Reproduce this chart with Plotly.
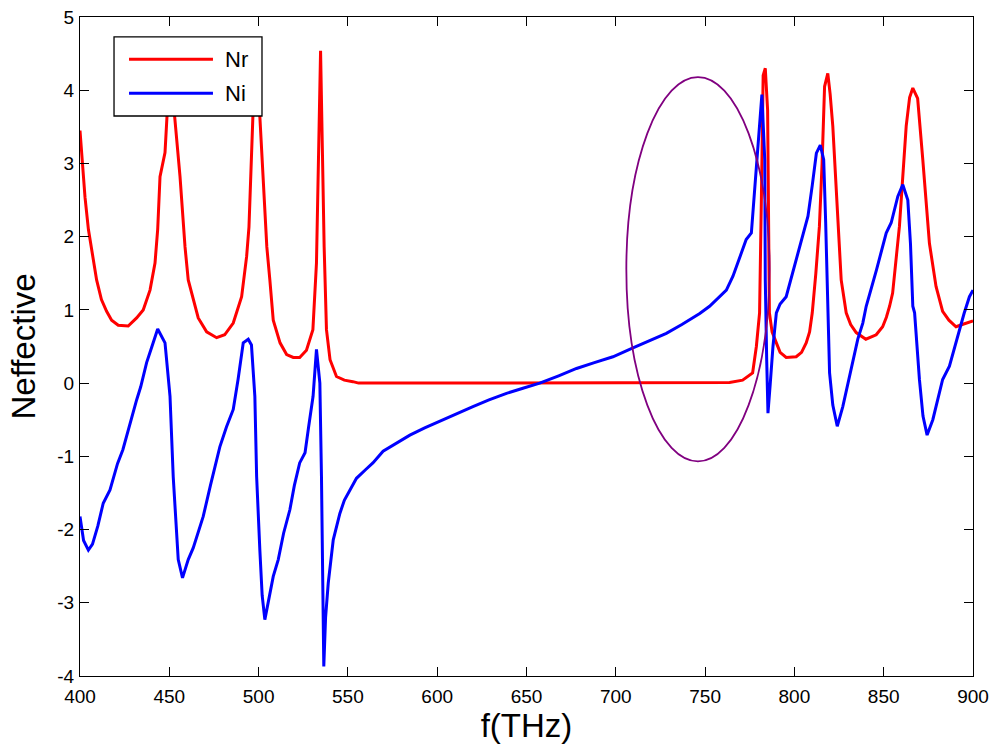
import plotly.graph_objects as go

# ---- data ----
nr_f = [400, 402.8, 404.7, 407.5, 409.3, 412, 414.9, 417.7, 421.4, 427, 431.7, 435.4, 439.2, 442, 443.5,
        444.8, 447.6, 448.7, 450.2, 451.5, 453, 456, 458.8, 460.6, 462.5, 466.2, 470.9, 476.5, 481, 485.8,
        490.5, 493.3, 494.6, 496.8, 498.3, 499.2, 500.7, 504.6, 506.3, 508.2, 512, 515.7, 519.4, 523,
        526.8, 528.7, 530.4, 532.4, 533.5, 534.7, 535.7, 536.7, 538, 540, 543.6, 548, 552.8, 556,
        600, 650, 700, 750, 763.7, 771, 776.6, 778.7, 780.5, 781.5, 782.5, 783.7, 785, 786, 787.5,
        789.9, 792, 795.4, 801, 804, 806.6, 808.5, 810, 812, 814, 815.5, 816.9, 818.7, 820, 821.5,
        823.4, 826.2, 829, 831.5, 834.6, 840, 845.8, 849.4, 851.5, 853.3, 855, 858.8, 862.6, 864.5,
        866.3, 869, 871.9, 875.6, 879.3, 883, 886.5, 890.5, 894, 900]
nr_v = [3.45, 2.54, 2.1, 1.64, 1.41, 1.14, 0.98, 0.86, 0.79, 0.78, 0.89, 1.0, 1.27, 1.64, 2.1,
        2.82, 3.15, 3.64, 3.85, 3.9, 3.64, 2.82, 1.86, 1.41, 1.23, 0.89, 0.70, 0.62, 0.66, 0.82,
        1.18, 1.73, 2.13, 3.64, 4.0, 3.95, 3.64, 1.86, 1.41, 0.86, 0.55, 0.39, 0.35, 0.35,
        0.45, 0.59, 0.73, 1.64, 3.2, 4.54, 3.2, 1.86, 0.73, 0.32, 0.09, 0.04, 0.02, 0.0,
        0.0, 0.0, 0.0, 0.0, 0.01, 0.04, 0.14, 0.5, 0.96, 2.5, 4.2, 4.30, 3.73, 0.96, 0.7,
        0.55, 0.42, 0.35, 0.36, 0.42, 0.55, 0.7, 0.96, 1.5, 2.14, 3.0, 4.05, 4.23, 3.95, 3.51,
        2.6, 1.41, 0.96, 0.8, 0.69, 0.6, 0.66, 0.77, 0.9, 1.05, 1.23, 2.14, 3.51, 3.9,
        4.03, 3.89, 3.05, 1.91, 1.32, 0.98, 0.86, 0.77, 0.80, 0.85]

ni_f = [400, 402, 404.7, 407, 410, 413, 416.8, 418.7, 421, 424, 428, 431.7, 434, 437.3, 440, 443.5,
        447.6, 449, 450.4, 452.2, 453.5, 455, 457.4, 460.6, 463.4, 466, 469, 473, 476.5, 478.3, 482,
        485.8, 488.5, 491.4, 494.2, 496, 497.9, 498.9, 500.7, 502, 503.5, 505.5, 508.2, 511, 514,
        517.5, 520, 523, 526, 528, 530.5, 532.4, 534.3, 535.2, 536.5, 537.5, 539, 541.8, 545.5, 548,
        551, 554.8, 560, 564, 569.7, 577, 584.7, 593, 601.5, 610, 620, 629, 638.8, 648, 657.4, 668,
        678, 688, 698.4, 709.6, 720, 728.3, 737, 747, 752.5, 757, 761.9, 765.6, 769, 773, 775.9,
        777.7, 779.6, 781.8, 783.4, 783.7, 784.5, 785.2, 786.5, 788, 789.9, 792, 795.4, 800, 804.8,
        807.6, 810, 812.3, 814.5, 816.4, 817.5, 818.7, 819.7, 821.5, 824, 827.1, 830, 832.7, 835.5,
        838.3, 840.2, 846, 851.4, 854.2, 857.9, 860.7, 863.5, 865, 866.3, 867.3, 868.5, 870, 872,
        874.3, 877.5, 880, 883, 886.8, 889.5, 892.4, 895, 898, 900]
ni_v = [-1.82, -2.15, -2.28, -2.2, -1.95, -1.64, -1.46, -1.28, -1.1, -0.91, -0.55, -0.23, -0.05, 0.28, 0.48, 0.74,
        0.55, 0.2, -0.18, -1.28, -1.82, -2.41, -2.66, -2.41, -2.25, -2.05, -1.82, -1.4, -1.05, -0.87, -0.6,
        -0.36, 0.05, 0.55, 0.60, 0.52, -0.18, -1.28, -2.28, -2.9, -3.23, -3.0, -2.64, -2.41, -2.05,
        -1.73, -1.4, -1.09, -0.95, -0.6, -0.18, 0.46, 0.0, -1.28, -3.87, -3.2, -2.73, -2.14, -1.78, -1.6,
        -1.46, -1.30, -1.18, -1.09, -0.93, -0.82, -0.71, -0.61, -0.52, -0.42, -0.32, -0.23, -0.14, -0.07, 0.0, 0.1,
        0.20, 0.28, 0.36, 0.48, 0.59, 0.68, 0.80, 0.95, 1.05, 1.15, 1.27, 1.46, 1.68, 1.96, 2.05,
        2.59, 3.28, 3.94, 3.05, 1.41, 0.3, -0.41, 0.0, 0.5, 0.96, 1.08, 1.18, 1.6, 2.05,
        2.28, 2.7, 3.14, 3.25, 3.05, 2.2, 1.23, 0.14, -0.3, -0.59, -0.32, 0.0, 0.32, 0.6,
        0.82, 1.05, 1.55, 2.05, 2.19, 2.55, 2.71, 2.5, 1.9, 1.05, 0.96, 0.5, 0.05, -0.45,
        -0.71, -0.50, -0.25, 0.05, 0.23, 0.48, 0.73, 0.95, 1.18, 1.27]

series_names = ["Nr", "Ni"]
series_colors = ["#ff0000", "#0000ff"]

# highlight ellipse (data units)
ell_cx, ell_cy = 746.0, 1.555
ell_rx, ell_ry = 40.1, 2.625

x_ticks = list(range(400, 901, 50))
y_ticks = list(range(-4, 6))

FONT = "Liberation Sans, Arial, sans-serif"

fig = go.Figure()
for name, color, xs, ys in zip(series_names, series_colors, [nr_f, ni_f], [nr_v, ni_v]):
    fig.add_trace(go.Scatter(x=xs, y=ys, mode="lines", name=name, showlegend=False,
                             line=dict(color=color, width=3)))

fig.add_shape(type="circle", xref="x", yref="y",
              x0=ell_cx - ell_rx, x1=ell_cx + ell_rx,
              y0=ell_cy - ell_ry, y1=ell_cy + ell_ry,
              line=dict(color="#800080", width=1.8))

# MATLAB-style legend box (paper coordinates, drawn above the data)
leg_x0, leg_x1, leg_y0, leg_y1 = 0.0381, 0.2038, 0.8498, 0.9697
leg_line_x0, leg_line_x1, leg_text_x = 0.0549, 0.1489, 0.1601
leg_rows = [0.9358, 0.8842]
fig.add_shape(type="rect", xref="paper", yref="paper", layer="above",
              x0=leg_x0, x1=leg_x1, y0=leg_y0, y1=leg_y1,
              fillcolor="white", line=dict(color="black", width=1.3))
for name, color, ry in zip(series_names, series_colors, leg_rows):
    fig.add_shape(type="line", xref="paper", yref="paper", layer="above",
                  x0=leg_line_x0, x1=leg_line_x1, y0=ry, y1=ry,
                  line=dict(color=color, width=3))
    fig.add_annotation(xref="paper", yref="paper", x=leg_text_x, y=ry,
                       xanchor="left", yanchor="middle", showarrow=False,
                       text=name, font=dict(family=FONT, size=22, color="black"))

axis_common = dict(showline=True, linecolor="black", linewidth=1, mirror="ticks",
                   ticks="inside", ticklen=9, tickcolor="black", showgrid=False,
                   zeroline=False, automargin=False,
                   tickfont=dict(family=FONT, size=19, color="black"))

fig.update_layout(
    width=995, height=749,
    margin=dict(l=80, r=22, t=17, b=73),
    paper_bgcolor="white", plot_bgcolor="white",
    font=dict(family=FONT, color="black"),
    xaxis=dict(range=[400, 900], tickvals=x_ticks, ticktext=[str(v) for v in x_ticks],
               ticklabelstandoff=3,
               title=dict(text="f(THz)", font=dict(family=FONT, size=33), standoff=8),
               **axis_common),
    yaxis=dict(range=[-4, 5], tickvals=y_ticks, ticktext=[str(v) for v in y_ticks],
               ticklabelstandoff=1,
               title=dict(text="Neffective", font=dict(family=FONT, size=33), standoff=11),
               **axis_common),
    showlegend=False,
)

fig.write_html("out.html")
